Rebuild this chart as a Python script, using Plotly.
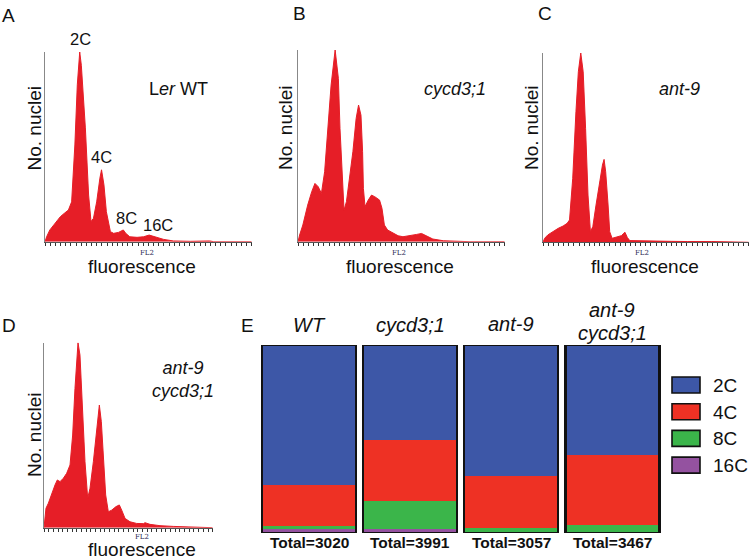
import plotly.graph_objects as go

W, H = 752, 559

# ---------------- data ----------------
# Flow cytometry histograms (channel 0-256, relative nuclei count 0-100)
a_ch = [0, 2, 6, 12, 19, 24, 29, 33, 37, 40, 43, 45, 50, 54, 57, 60, 64, 68, 70, 73,
        76, 81, 85, 91, 97, 100, 105, 114, 122, 129, 136, 147, 159, 180, 204, 209, 256]
a_cnt = [0, 2.6, 6.2, 9.7, 13.2, 15, 16.7, 21, 51, 82.7, 100, 93, 60, 24.6, 10.6, 12.3, 21, 33.5, 37.9, 30,
         15.8, 5.3, 4.4, 4.9, 6.2, 4.4, 2.6, 2.3, 2.6, 3.5, 2.6, 1.2, 0.4, 0.2, 0.4, 0, 0]

b_ch = [0, 2, 6, 12, 17, 21, 25, 29, 33, 37, 41, 46, 50, 52, 55, 57, 60, 64, 68, 72,
        75, 78, 80, 81, 83, 87, 91, 95, 101, 104, 107, 111, 118, 124, 130, 138, 147, 153, 159, 167,
        180, 200, 209, 213, 256]
b_cnt = [0, 3.5, 8.7, 19.1, 26.1, 30.4, 28.7, 25.2, 36.5, 59.1, 81.7, 100, 85.2, 59.1, 29.6, 16.5, 20.9, 33, 47, 64.3,
         71.3, 66, 47, 27.8, 18.3, 21.7, 24.3, 23.5, 21.7, 17.4, 8.7, 6.1, 4.3, 3.1, 2.6, 3, 3.8, 4.3, 3.1, 1.4,
         0.5, 0.3, 0.2, 0, 0]

c_ch = [0, 2, 6, 12, 19, 25, 30, 33, 37, 41, 44, 47, 50, 53, 56, 59, 62, 66, 71, 74,
        76, 78, 81, 83, 86, 91, 97.5, 102, 105, 108, 118, 139, 160, 180, 201, 210, 256]
c_cnt = [0, 2.1, 3.9, 5.6, 7.4, 8.6, 10, 11.8, 33.8, 69, 90.1, 100, 90.1, 60.2, 25, 5.6, 8.3, 19.7, 33.8, 40.8,
         43.8, 37.3, 19.7, 5.6, 2.1, 2.6, 3.5, 5.3, 2.5, 0.9, 0.9, 0.7, 0.5, 0.4, 0.4, 0.4, 0]

d_ch = [0, 3, 6.6, 11.6, 16.7, 20.2, 24.3, 29.3, 34.4, 39.5, 43.5, 47, 49.6, 51.6, 54.6, 58.2, 62.2, 66.3, 69.8, 74.9,
        79, 81.5, 84, 87, 90, 93.6, 97.6, 102.7, 109.3, 114.3, 117.9, 123, 130.5, 140.6, 150.8, 153.3, 160.9, 176, 196.3, 216.5,
        236.8, 252, 256]
d_cnt = [0, 10.5, 13.2, 18.6, 23.1, 25.8, 24.9, 26.7, 29.4, 33.9, 50.1, 75.3, 93.3, 100, 93.3, 68.1, 35.7, 15.9, 21.3, 35.7,
         50.1, 60.9, 66.3, 57.3, 35.7, 17.7, 8.6, 9.5, 11.4, 12.3, 9.5, 5, 3.2, 2.3, 2.2, 2.7, 1.8, 1.1, 0.7, 0.5,
         0.4, 0.2, 0]

hist_labels = ["L<i>er</i> WT", "<i>cycd3;1</i>", "<i>ant-9</i>", "<i>ant-9</i><br><i>cycd3;1</i>"]
peak_labels = ["2C", "4C", "8C", "16C"]

# Ploidy distribution (% of nuclei)
genotypes = ["WT", "cycd3;1", "ant-9", "ant-9 cycd3;1"]
ploidy = ["2C", "4C", "8C", "16C"]
pct_2c = [74.7, 50.6, 69.5, 58.6]
pct_4c = [21.4, 32.5, 28.0, 37.0]
pct_8c = [1.8, 14.8, 2.5, 4.4]
pct_16c = [2.1, 2.1, 0.0, 0.0]
totals = [3020, 3991, 3057, 3467]

# ---------------- styling ----------------
FONT = "Liberation Sans, Arial, sans-serif"
RED = "#E61E27"
PLOIDY_COLORS = ["#3D57A7", "#EE3124", "#3BB54A", "#9452A0"]


def px(x, y):
    return x / W, 1 - y / H


def dom_x(l, r):
    return [l / W, r / W]


def dom_y(bottom, top):
    return [1 - bottom / H, 1 - top / H]


# pixel geometry of panels: (left, right, baseline, top, n_ticks)
geo = [
    (45, 251.7, 241.7, 52, 40),
    (298, 504.7, 241.7, 50, 40),
    (543, 748.7, 242.3, 53, 40),
    (44, 212.7, 527.7, 342.7, 36),
]

fig = go.Figure()
layout = dict(
    width=W, height=H, margin=dict(l=0, r=0, t=0, b=0),
    paper_bgcolor="white", plot_bgcolor="white",
    showlegend=False, barmode="stack",
    font=dict(family=FONT, color="#111"),
)

hists = [(a_ch, a_cnt), (b_ch, b_cnt), (c_ch, c_cnt), (d_ch, d_cnt)]
for i, ((xs, ys), g) in enumerate(zip(hists, geo), start=1):
    l, r, base, top, nt = g
    fig.add_trace(go.Scatter(
        x=xs, y=ys, mode="lines", fill="tozeroy",
        fillcolor=RED, line=dict(color=RED, width=1),
        xaxis=f"x{i}", yaxis=f"y{i}", hoverinfo="skip",
    ))
    layout[f"xaxis{i}"] = dict(
        domain=dom_x(l, r), anchor=f"y{i}", range=[0, 256],
        showline=True, linecolor="#555", linewidth=1,
        ticks="outside", ticklen=3, tickwidth=1, tickcolor="#333",
        tick0=0, dtick=256 / nt, showticklabels=False,
        showgrid=False, zeroline=False, fixedrange=True,
    )
    layout[f"yaxis{i}"] = dict(
        domain=dom_y(base, top), anchor=f"x{i}", range=[0, 100],
        showline=True, linecolor="#888", linewidth=1,
        ticks="", showticklabels=False, showgrid=False, zeroline=False, fixedrange=True,
    )

# Stacked bars (panel E): 16C at the bottom, 2C on top
xpos = list(range(len(genotypes)))
series = list(zip(ploidy, [pct_2c, pct_4c, pct_8c, pct_16c], PLOIDY_COLORS))
for name, vals, col in reversed(series):
    fig.add_trace(go.Bar(
        x=xpos, y=vals, name=name, width=0.93,
        marker=dict(color=col, line=dict(width=0)),
        xaxis="x5", yaxis="y5",
    ))
# Outline around each full bar
bar_tot = [a + b + c + d for a, b, c, d in zip(pct_2c, pct_4c, pct_8c, pct_16c)]
fig.add_trace(go.Bar(
    x=xpos, y=bar_tot, width=0.93,
    marker=dict(color="rgba(0,0,0,0)", line=dict(color="#111", width=2.2)),
    xaxis="x6", yaxis="y6", hoverinfo="skip",
))
E_dx = dom_x(258.5, 663)
E_dy = dom_y(533, 345)
layout["xaxis5"] = dict(domain=E_dx, anchor="y5", range=[-0.5, 3.5], visible=False, fixedrange=True)
layout["yaxis5"] = dict(domain=E_dy, anchor="x5", range=[0, 100], visible=False, fixedrange=True)
layout["xaxis6"] = dict(domain=E_dx, anchor="y6", range=[-0.5, 3.5], visible=False, overlaying="x5", fixedrange=True)
layout["yaxis6"] = dict(domain=E_dy, anchor="x6", range=[0, 100], visible=False, overlaying="y5", fixedrange=True)

annotations = []


def ann(text, x, y, size, **kw):
    xx, yy = px(x, y)
    d = dict(text=text, x=xx, y=yy, xref="paper", yref="paper", showarrow=False,
             font=dict(size=size, family=kw.pop("family", FONT), color=kw.pop("color", "#111")),
             xanchor=kw.pop("xanchor", "center"), yanchor=kw.pop("yanchor", "middle"))
    d.update(kw)
    annotations.append(d)


# panel letters
for t, (x, y) in zip("ABCDE", [(8.5, 16), (299, 13), (545, 13), (8.5, 325), (247, 325)]):
    ann(t, x, y, 19)

# axis titles
for (x, y) in [(34.5, 128), (286, 128), (532, 128), (34, 435)]:
    ann("No. nuclei", x, y, 19, textangle=-90)
for (x, y) in [(142, 266), (400, 266), (645, 266), (142, 549)]:
    ann("fluorescence", x, y, 19)
for (x, y) in [(147, 253), (399, 253), (642, 253), (142, 537)]:
    ann("FL2", x, y, 7, family="DejaVu Serif, serif", color="#2a2a55")

# genotype labels on histograms
ann(hist_labels[0], 178, 89, 18)
ann(hist_labels[1], 455, 89, 18)
ann(hist_labels[2], 679, 89, 18)
ann(hist_labels[3], 150, 379, 18, xanchor="left")

# ploidy peak labels in A
for t, (x, y) in zip(peak_labels, [(80, 39), (102, 157), (126, 218), (158, 225)]):
    ann(t, x, y, 16.5)

# bar titles and totals (positioned on the bar axis)
title_y = [325, 325, 324, None]
for i, g in enumerate(genotypes):
    if i < 3:
        annotations.append(dict(text=f"<i>{g}</i>", x=i, xref="x5", y=1 - title_y[i] / H, yref="paper",
                                showarrow=False, font=dict(size=20, family=FONT, color="#111"),
                                xanchor="center", yanchor="middle"))
    else:
        for line, yy in zip(g.split(" "), [310, 333]):
            annotations.append(dict(text=f"<i>{line}</i>", x=i, xref="x5", y=1 - yy / H, yref="paper",
                                    showarrow=False, font=dict(size=20, family=FONT, color="#111"),
                                    xanchor="center", yanchor="middle"))
    annotations.append(dict(text=f"<b>Total={totals[i]}</b>", x=i, xref="x5", y=1 - 542.5 / H, yref="paper",
                            showarrow=False, font=dict(size=15.5, family=FONT, color="#111"),
                            xanchor="center", yanchor="middle"))

# custom legend
shapes = []
for k, (name, col) in enumerate(zip(ploidy, PLOIDY_COLORS)):
    y0 = 377 + 26.7 * k
    x0p, y0p = px(672, y0)
    x1p, y1p = px(700, y0 + 16)
    shapes.append(dict(type="rect", xref="paper", yref="paper", x0=x0p, x1=x1p, y0=y1p, y1=y0p,
                       fillcolor=col, line=dict(color="#111", width=1.6)))
    ann(name, 711, y0 + 8.5, 19, xanchor="left")

layout["annotations"] = annotations
layout["shapes"] = shapes
fig.update_layout(**layout)
fig.write_html("out.html", config={"displayModeBar": False},
               post_script="document.body.style.margin='0px';document.body.style.overflow='hidden';")
